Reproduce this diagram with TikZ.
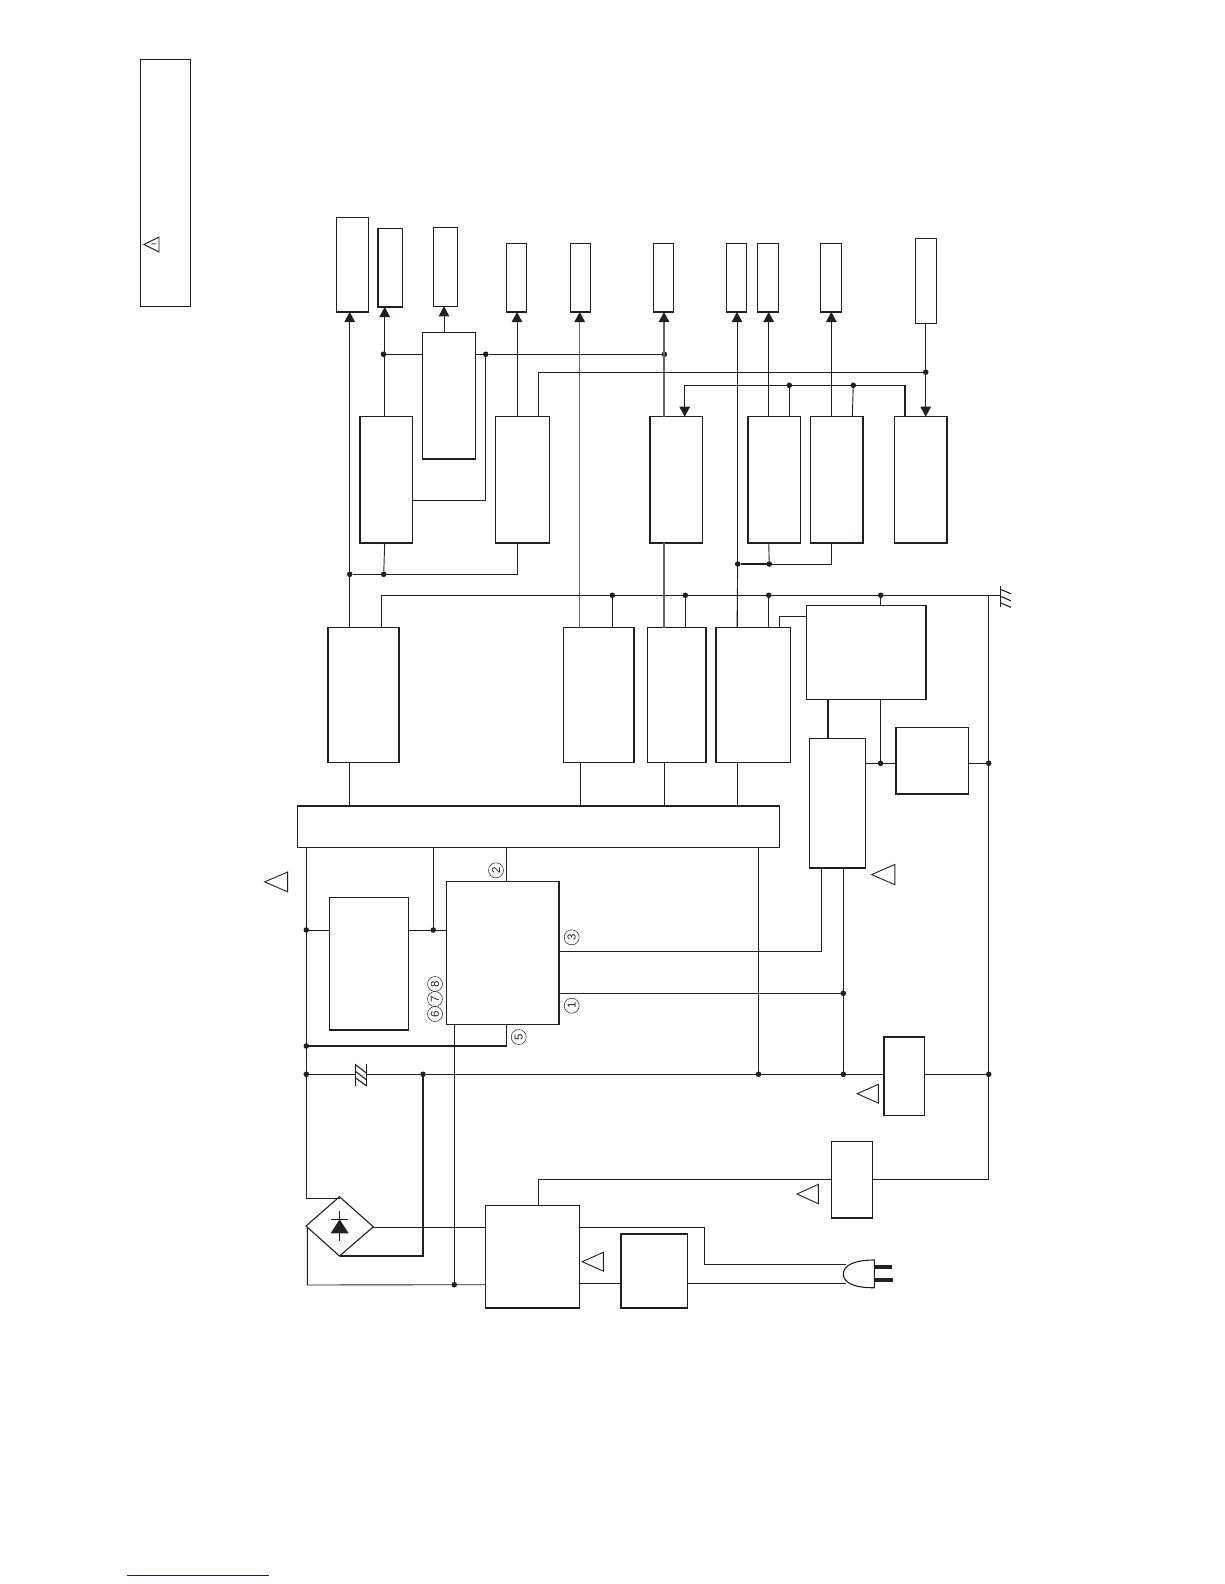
\documentclass[tikz,border=0pt]{standalone}
\usepackage{fontspec}
\setmainfont{Liberation Sans}
\usetikzlibrary{arrows.meta,calc}
\definecolor{ink}{HTML}{231F20}
\definecolor{rulegray}{HTML}{666666}
\definecolor{footblue}{RGB}{25,25,160}
\newcommand{\bx}[5]{\node[boxst,minimum width={(#4-#2)*1pt},minimum height={(#5-#3)*1pt}] (#1) at ({(#2+#4)/2},{(#3+#5)/2}) {};}
\newcommand{\dt}[3]{\node[dotst] (#1) at (#2,#3) {};}
\newcommand{\warn}[5]{\draw[warnst] (#2,#3) -- (#4,#5-0) -- (#4,2*#3-#5) -- cycle;}
\newcommand{\num}[4]{\node[numst] (#1) at (#2,#3) {\rotatebox{90}{#4}};}
\begin{document}
\begin{tikzpicture}[x=1pt,y=-1pt,
  boxst/.style={draw=ink,line width=1.5pt,inner sep=0pt,outer sep=0pt,rectangle},
  dotst/.style={circle,fill=ink,inner sep=0pt,minimum size=5.6pt,outer sep=0pt},
  wire/.style={draw=ink,line width=0.9pt},
  bold/.style={draw=ink,line width=1.5pt},
  arr/.style={draw=ink,line width=0.9pt,-{Triangle[length=10pt,width=10.5pt]}},
  grayarr/.style={draw=rulegray,line width=1.3pt,-{Triangle[length=10pt,width=10.5pt,color=ink,fill=ink]}},
  graywire/.style={draw=rulegray,line width=1.3pt},
  warnst/.style={draw=ink,line width=0.9pt,line join=miter},
  numst/.style={circle,draw=ink,line width=0.5pt,inner sep=0pt,minimum size=15pt,font=\fontsize{11.5}{12}\selectfont,text=ink}]
\useasboundingbox (0,0) rectangle (1224,1584);
% frame at top left with caution mark
\bx{legend}{140.5}{59.5}{190.5}{306.5}
\node[anchor=center,rotate=90,inner sep=0pt,font=\fontsize{7}{8}\selectfont\bfseries,text=ink] (bang) at (154,244.4) {!};
\warn{tl}{144}{244.5}{159}{237}
% top row
\bx{a}{336.7}{217.7}{368.3}{312}
\bx{b}{378}{228.3}{402.3}{307}
\bx{c}{433.7}{227.7}{457.3}{306.3}
\bx{d}{506.7}{243.5}{526.7}{312}
\bx{e}{570.7}{243.5}{590.3}{312}
\bx{i}{653.3}{243.5}{673.3}{312}
\bx{j}{726.7}{243.5}{746.3}{312}
\bx{k}{757.7}{243.5}{778.3}{312}
\bx{l}{820.7}{243.5}{841.3}{312}
\bx{m}{915.7}{238.7}{936.3}{323.3}
% second row
\bx{f}{360}{416.7}{412.3}{543}
\bx{g}{422.7}{332.7}{475.3}{459}
\bx{h}{495.7}{416.7}{549.3}{543}
\bx{n}{650}{416.7}{702.3}{543}
\bx{o}{748}{416.7}{800.3}{543}
\bx{p}{810.7}{416.7}{863}{543}
\bx{q}{894.7}{416.7}{947}{543}
% third row
\bx{r1}{328.2}{627.5}{398.9}{762.7}
\bx{r2}{563.5}{627.5}{634.2}{762.7}
\bx{r3}{647.3}{627.5}{705.9}{762.7}
\bx{r4}{716}{627.5}{790.3}{762.7}
\bx{rr}{806.7}{605.7}{926}{699.7}
\bx{s}{896}{727.7}{968.3}{794}
\bx{t}{809.7}{738.7}{865.3}{868}
% bus and lower blocks
\bx{bus}{297.3}{806}{779.6}{847.7}
\bx{v}{329.7}{897.7}{408.3}{1030}
\bx{w}{446.7}{881.7}{559}{1024.7}
\bx{x}{884}{1037}{924.3}{1115.3}
\bx{y}{831.7}{1141.7}{872.3}{1218}
\bx{z}{485.7}{1205.7}{579.3}{1308}
\bx{aa}{621}{1234}{687.7}{1308}
% junctions
\dt{d1}{383.5}{354.3}\dt{d2}{485.7}{354.3}\dt{d3}{664.4}{354.3}
\dt{d4}{925.7}{372.2}
\dt{d5}{789.3}{385.3}\dt{d6}{853.3}{385.3}
\dt{d7}{349.7}{574.3}\dt{d8}{383.7}{574.3}
\dt{d9}{737.7}{564}\dt{d10}{769.3}{564}
\dt{e1}{612.3}{595.3}\dt{e2}{685.3}{595.3}\dt{e3}{768.7}{595.3}\dt{e4}{880.7}{595.3}
\dt{e5}{880.5}{763.3}\dt{e6}{988.7}{763.3}
\dt{f1}{306.3}{930}\dt{f2}{433.3}{930}\dt{f3}{306.3}{1046}\dt{f4}{306.3}{1074.3}\dt{f5}{423}{1074.3}
\dt{f6}{758.5}{1074.3}\dt{f7}{843.3}{1074.3}\dt{f8}{988.7}{1074.3}\dt{f9}{843.3}{993.3}
\dt{f10}{454.3}{1284.7}
% helper end points
\coordinate (gndbar) at (1000.7,595.3);
\coordinate (ctop) at (988.7,595.3);
\coordinate (lcorner) at (381,595.3);
\coordinate (hcorner) at (538.3,372.2);
\coordinate (fcorner) at (485.7,500.7);
\coordinate (nq1) at (684.7,385.3);
\coordinate (nq2) at (905,385.3);
\coordinate (hb) at (517,574.3);
\coordinate (pb) at (831.3,564);
\coordinate (rcorner) at (779.3,616.3);
\coordinate (w3) at (821,951.7);
\coordinate (w5) at (506.7,1046);
\coordinate (yleft) at (538.3,1179.3);
\coordinate (yright) at (988.7,1179.3);
\coordinate (dtop) at (306.3,1198);
\coordinate (dright) at (423,1256);
\coordinate (dleft) at (307.3,1285);
% bridge rectifier
\coordinate (diaT) at (339.5,1196.7);
\coordinate (diaB) at (339.5,1256);
\coordinate (diaL) at (306,1226);
\coordinate (diaR) at (373.3,1226.8);
\draw[draw=ink,line width=1.1pt] (diaT) -- (diaR) -- (diaB) -- (diaL) -- cycle;
\fill[ink] (330.7,1233.3) -- (348.7,1233.3) -- (339.6,1219.3) -- cycle;
\draw[wire] (331,1219) -- (348,1219);
\draw[line width=0.7pt,draw=ink] (339.6,1211) -- (339.6,1241);
% arrows to top row
\draw[arr] (349.7,0 |- r1.north) -- (349.7,0 |- a.south);
\draw[arr,line width=1.1pt] (384.7,0 |- f.north) -- (384.7,0 |- b.south);
\draw[arr] (444,0 |- g.north) -- (444,0 |- c.south);
\draw[arr] (517,0 |- h.north) -- (517,0 |- d.south);
\draw[grayarr] (579.7,0 |- r2.north) -- (579.7,0 |- e.south);
\draw[grayarr] (664,0 |- n.north) -- (664,0 |- i.south);
\draw[arr] (737,0 |- r4.north) -- (737,0 |- j.south);
\draw[arr] (768.7,0 |- o.north) -- (768.7,0 |- k.south);
\draw[arr] (831.3,0 |- p.north) -- (831.3,0 |- l.south);
\draw[arr] (684.7,0 |- nq1) -- (684.7,0 |- n.north);
\draw[arr] (925.7,0 |- m.south) -- (925.7,0 |- q.north);
% second row wiring
\draw[wire] (d1) -- (d1 -| g.west);
\draw[wire] (d2 -| g.east) -- (d2) -- (d3);
\draw[wire] (f.east |- fcorner) -- (fcorner) -- (d2);
\draw[wire] (538.3,0 |- h.north) -- (hcorner) -- (d4);
\draw[wire] (nq1) -- (nq2);
\draw[bold] (nq2) -- (nq2 |- q.north);
\draw[wire] (d5) -- (d5 |- o.north);
\draw[wire] (d6) -- (852.3,0 |- p.north);
\draw[wire] (384.7,0 |- f.south) -- (d8);
\draw[wire] (d7) -- (hb) -- (517,0 |- h.south);
\draw[wire] (768.7,0 |- o.south) -- (d10);
\draw[bold] (d9) -- (d10);
\draw[wire] (d10) -- (pb) -- (831.3,0 |- p.south);
% ground rail
\draw[wire,line width=1pt] (r1.north -| lcorner) -- (lcorner) -- (gndbar);
\draw[wire] (e1) -- (e1 |- r2.north);
\draw[bold] (e2) -- (e2 |- r3.north);
\draw[wire] (e3) -- (e3 |- r4.north);
\draw[wire] (e4) -- (e4 |- rr.north);
\draw[wire] (rcorner |- r4.north) -- (rcorner) -- (rcorner -| rr.west);
\draw[bold] (828,0 |- rr.south) -- (828,0 |- t.north);
\draw[wire] (e5 |- rr.south) -- (e5);
\draw[wire] (t.east |- e5) -- (e5) -- (e5 -| s.west);
\draw[wire] (e6 -| s.east) -- (e6);
\draw[wire] (ctop) -- (yright);
\draw[line width=1pt,draw=ink] (1000.9,586) -- (1000.9,607);
\draw[line width=1.1pt,draw=ink] (1000.9,589.5) -- (1011,593.8);
\draw[line width=1.1pt,draw=ink] (1000.9,596.5) -- (1011,600.8);
\draw[line width=1.1pt,draw=ink] (1000.9,603) -- (1011,607.3);
% bus feeds
\draw[wire] (349.7,0 |- r1.south) -- (349.7,0 |- bus.north);
\draw[wire] (580,0 |- r2.south) -- (580,0 |- bus.north);
\draw[wire] (664,0 |- r3.south) -- (664,0 |- bus.north);
\draw[wire] (737,0 |- r4.south) -- (737,0 |- bus.north);
\draw[graywire] (664,0 |- r3.north) -- (664,0 |- n.south);
\draw[wire] (737,0 |- r4.north) -- (d9);
\draw[wire] (306.3,0 |- bus.south) -- (f4) -- (dtop) -- (339.5,1198);
\draw[wire] (f2 |- bus.south) -- (f2);
\draw[wire] (506.7,0 |- bus.south) -- (506.7,0 |- w.north);
\draw[wire] (f6 |- bus.south) -- (f6);
% power section
\draw[wire] (f1) -- (f1 -| v.west);
\draw[wire] (f2 -| v.east) -- (f2) -- (f2 -| w.west);
\draw[bold] (f3) -- (w5) -- (506.7,0 |- w.south);
\draw[wire] (w.east |- w3) -- (w3) -- (821,0 |- t.south);
\draw[wire] (w.east |- f9) -- (f9);
\draw[wire] (843.3,0 |- t.south) -- (f7);
\draw[wire] (454.3,0 |- w.south) -- (f10);
\draw[wire] (f4) -- (355,1074.3);
\draw[wire] (366.7,1074.3) -- (f5);
\draw[wire,line width=1.1pt] (f5) -- (f6) -- (f7) -- (f7 -| x.west);
\draw[wire] (f8 -| x.east) -- (f8);
\draw[bold] (f5) -- (dright) -- (diaB);
\draw[wire] (diaR) -- (373.3,1227.3) -- (z.west |- 0,1227.3);
\draw[wire] (307.3,1227) -- (dleft) -- (f10) -- (f10 -| z.west);
\draw[wire] (538.3,0 |- z.north) -- (yleft) -- (yleft -| y.west);
\draw[wire] (yright -| y.east) -- (yright);
% cord and plug
\coordinate (plugA) at (846,1264.3);
\coordinate (plugB) at (846,1283.3);
\draw[wire] (z.east |- 0,1227.3) -- (704,1227.3) -- (704,1264.3) -- (plugA);
\draw[wire] (z.east |- 0,1283.3) -- (aa.west |- 0,1283.3);
\draw[wire] (aa.east |- 0,1283.3) -- (plugB);
\draw[draw=ink,line width=1.1pt] (874.3,1260) -- (874.3,1287.7) .. controls (855,1288) and (843.3,1283) .. (843.3,1274) .. controls (843.3,1265) and (855,1260) .. (874.3,1260) -- cycle;
\draw[draw=ink,line width=3.6pt] (874.3,1267) -- (892,1267);
\draw[draw=ink,line width=3.6pt] (874.3,1280) -- (893,1280);
% filter symbol on the mains rail
\draw[line width=0.9pt,draw=ink] (355,1064) -- (355,1086);
\draw[line width=0.9pt,draw=ink] (366.7,1064) -- (366.7,1086);
\draw[line width=1.1pt,draw=ink] (355,1064.3) -- (366.7,1073.3);
\draw[line width=1.1pt,draw=ink] (355,1071) -- (366.7,1080);
\draw[line width=1.1pt,draw=ink] (355,1077.5) -- (366.7,1086);
% caution triangles
\warn{t1}{264.6}{881.9}{287.6}{872}
\warn{t2}{871.6}{874.6}{894.8}{864.5}
\warn{t3}{857.3}{1093.7}{878.3}{1084.3}
\warn{t4}{797}{1194}{818.3}{1184.3}
\warn{t5}{582.3}{1261.7}{603.3}{1252.3}
% numbered circles
\num{n2}{496}{870.3}{2}
\num{n3}{571.7}{937.3}{3}
\num{n1}{571.7}{1005.7}{1}
\num{n5}{518.7}{1037}{5}
\num{n8}{435}{984}{8}
\num{n7}{435}{999}{7}
\num{n6}{435}{1014}{6}
% rule at foot of page
\coordinate (ruleA) at (127,1575);
\coordinate (ruleB) at (269,1575);
\draw[line width=1pt,draw=footblue] (ruleA) -- (ruleB);
\end{tikzpicture}
\end{document}
